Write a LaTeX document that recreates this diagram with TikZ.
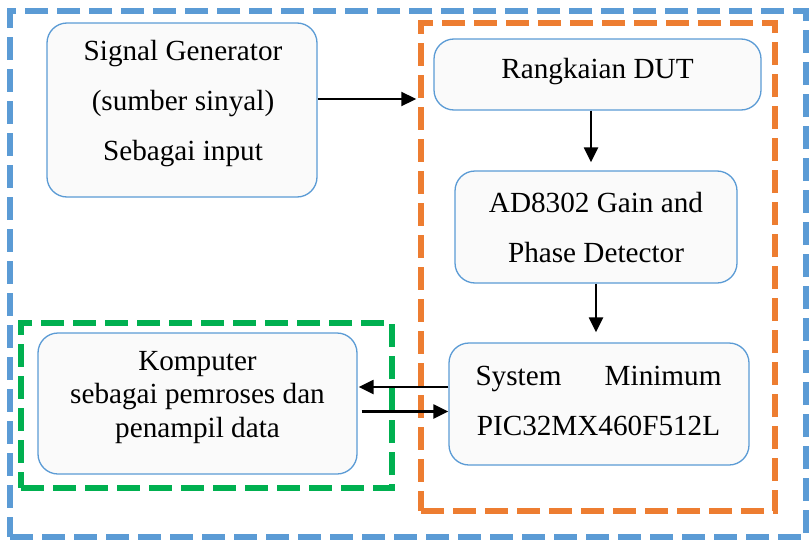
\documentclass[tikz,border=0pt]{standalone}
\usepackage{fontspec}
\setmainfont{Liberation Serif}[Ligatures=TeX]
\newfontfamily\tnr{Liberation Serif}
\usetikzlibrary{arrows.meta}
\definecolor{bblue}{HTML}{5B9BD5}
\definecolor{borange}{HTML}{ED7D31}
\definecolor{bgreen}{HTML}{00B050}
\definecolor{bfill}{HTML}{FAFAFA}
\tikzset{
  grp/.style={draw=#1, line width=5.5pt, dash pattern=on 23pt off 9pt, inner sep=0pt},
  blk/.style={draw=bblue, fill=bfill, line width=1.3pt, rounded corners=20pt, inner sep=0pt},
  txt/.style={font=\tnr\fontsize{29.2}{35}\selectfont, anchor=base, inner sep=0pt},
  arr/.style={line width=2.3pt, -{Triangle[length=15pt,width=14pt]}}
}
\begin{document}
\begin{tikzpicture}[x=1pt,y=-1pt]
\useasboundingbox (0,0) rectangle (809,541);
% group frames
\node[grp=bblue, minimum width=796pt, minimum height=526pt] (outer) at (408,274) {};
\node[grp=borange, minimum width=354pt, minimum height=488pt] (dutgrp) at (598,267) {};
\node[grp=bgreen, minimum width=371pt, minimum height=165pt] (pcgrp) at (206.5,405.5) {};
% blocks
\node[blk, minimum width=270pt, minimum height=174pt] (sg) at (182,110) {};
\node[blk, minimum width=327pt, minimum height=71pt] (dut) at (597.5,74.5) {};
\node[blk, minimum width=282pt, minimum height=112pt] (ad) at (596,227) {};
\node[blk, minimum width=300pt, minimum height=122pt] (sys) at (599,404) {};
\node[blk, minimum width=319pt, minimum height=141pt] (pc) at (197.5,403.5) {};
% texts
\node[txt] (sg1) at (183,60) {Signal Generator};
\node[txt] (sg2) at (183,110) {(sumber sinyal)};
\node[txt] (sg3) at (183,160) {Sebagai input};
\node[txt] (dut1) at (597.5,78) {Rangkaian DUT};
\node[txt] (ad1) at (596,212) {AD8302 Gain and};
\node[txt] (ad2) at (596,262) {Phase Detector};
\node[txt] (sys1) at (598.5,385) {\makebox[246pt]{System\hfill Minimum}};
\node[txt] (sys2) at (598.5,435) {PIC32MX460F512L};
\node[txt] (pc1) at (197.5,370) {Komputer};
\node[txt] (pc2) at (197.5,403) {sebagai pemroses dan};
\node[txt] (pc3) at (197.5,437) {penampil data};
% connectors
\draw[arr, shorten >=2pt] ([yshift=11pt]sg.east) -- ([yshift=11pt]sg.east -| dutgrp.west);
\draw[arr, shorten >=8pt] ([xshift=-6.5pt]dut.south) -- ([xshift=-6.5pt]dut.south |- ad.north);
\draw[arr, shorten >=10pt] (ad.south) -- (ad.south |- sys.north);
\draw[arr, shorten >=1pt] ([yshift=17pt]sys.west) -- ([yshift=17pt]sys.west -| pc.east);
\draw[arr, shorten <=4pt] ([yshift=-8pt]pc.east) -- ([yshift=-8pt]pc.east -| sys.west);
\end{tikzpicture}
\end{document}
